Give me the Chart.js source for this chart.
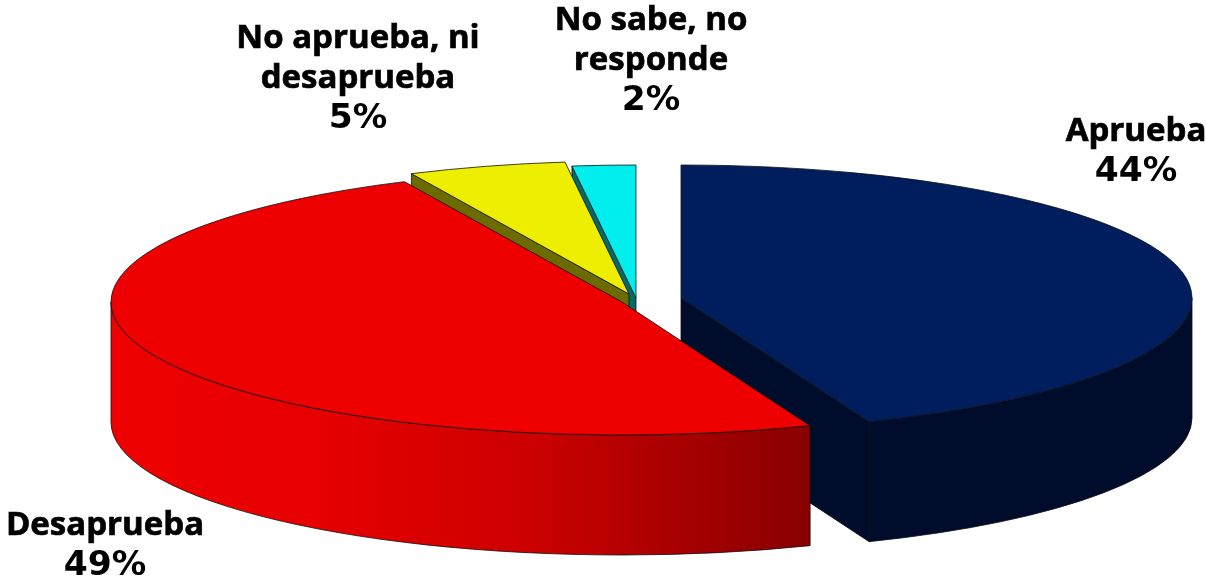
<!DOCTYPE html>
<html>
<head>
<meta charset="utf-8">
<style>
  html, body { margin: 0; padding: 0; background: #fff; }
  canvas { display: block; }
</style>
<script src="https://cdn.jsdelivr.net/npm/chart.js@4"></script>
</head>
<body>
<canvas id="torta" width="1206" height="583"></canvas>
<script>
/* =================== Datos =================== */
const categorias = ["Aprueba", "Desaprueba", "No aprueba, ni desaprueba", "No sabe, no responde"];
const valores = [44, 49, 5, 2];
const colores = ["#001e5e", "#ee0000", "#eeee00", "#00eeee"];
const coloresCorte = ["#000c2b", "#8b0000", "#6b6b00", "#006b6b"];

/* =============== Etiquetas (líneas y ancla en pantalla) =============== */
const etiquetas = [
  ["Aprueba", "44%"],
  ["Desaprueba", "49%"],
  ["No aprueba, ni", "desaprueba", "5%"],
  ["No sabe, no", "responde", "2%"]
];
const anclas = [[1136, 141], [105, 535], [358, 48], [651, 30]];
const FUENTE = "bold 33px 'Open Sans'";
const FUENTE_PCT = "bold 34.5px 'DejaVu Sans'"; // los dígitos del original son más anchos
const INTERLINEA = 40;

/* =============== Geometría 3D =============== */
const RX = 511, RY = 133, PROF = 120;
const centros = [[681, 298], [622, 302], [629, 294], [636, 298]];
const ordenMuros = [0, 3, 2, 1]; // de atrás hacia adelante

let sx = 1, sy = 1; // escala de la torta plana a la elipse

function gradienteMuro(ctx, i){
  const g = ctx.createLinearGradient(111, 0, 810, 0);
  if(i === 1){
    g.addColorStop(0, "#ee0000");
    g.addColorStop(0.3, "#e60000");
    g.addColorStop(0.6, "#cc0000");
    g.addColorStop(1, "#880000");
    return g;
  }
  return coloresCorte[i];
}

function cara(ctx, pts, color){
  ctx.beginPath();
  pts.forEach((p, k) => k ? ctx.lineTo(p[0], p[1]) : ctx.moveTo(p[0], p[1]));
  ctx.closePath();
  ctx.fillStyle = color;
  ctx.fill();
  ctx.stroke();
}

function corte(ctx, cx, cy, ang, color){
  const px = cx + RX * Math.cos(ang), py = cy + RY * Math.sin(ang);
  cara(ctx, [[cx, cy], [px, py], [px, py + PROF], [cx, cy + PROF]], color);
}

function muros(ctx, arcs){
  ctx.strokeStyle = "#101010";
  ctx.lineWidth = 0.8;
  ordenMuros.forEach(i => {
    const arc = arcs[i];
    const cx = arc.x * sx, cy = arc.y * sy;
    // solo se ven las caras de corte que miran hacia abajo
    if(Math.cos(arc.startAngle) < -1e-6) corte(ctx, cx, cy, arc.startAngle, coloresCorte[i]);
    if(Math.cos(arc.endAngle) > 1e-6) corte(ctx, cx, cy, arc.endAngle, coloresCorte[i]);
    // muro exterior: mitad delantera de la elipse
    const a = Math.max(arc.startAngle, 0), b = Math.min(arc.endAngle, Math.PI);
    if(b > a){
      ctx.beginPath();
      ctx.ellipse(cx, cy, RX, RY, 0, a, b);
      ctx.ellipse(cx, cy + PROF, RX, RY, 0, b, a, true);
      ctx.closePath();
      ctx.fillStyle = gradienteMuro(ctx, i);
      ctx.fill();
      ctx.stroke();
    }
  });
}

function bordes(ctx, arcs){
  ctx.strokeStyle = "#101010";
  ctx.lineWidth = 0.8;
  arcs.forEach(arc => {
    const cx = arc.x * sx, cy = arc.y * sy;
    ctx.beginPath();
    ctx.moveTo(cx, cy);
    ctx.ellipse(cx, cy, RX, RY, 0, arc.startAngle, arc.endAngle);
    ctx.closePath();
    ctx.stroke();
  });
}

function textos(ctx){
  ctx.fillStyle = "#000";
  ctx.strokeStyle = "#000";
  ctx.lineWidth = 0.7; // el original es algo más grueso
  ctx.textAlign = "center";
  ctx.textBaseline = "alphabetic";
  etiquetas.forEach((lineas, i) => {
    lineas.forEach((t, k) => {
      const x = anclas[i][0], y = anclas[i][1] + k * INTERLINEA;
      const pct = k === lineas.length - 1;
      ctx.font = pct ? FUENTE_PCT : FUENTE;
      ctx.fillText(t, x, y);
      if(!pct) ctx.strokeText(t, x, y);
    });
  });
}

/* --------------- Plugin: vuelve 3D la torta de Chart.js --------------- */
const torta3d = {
  id: "torta3d",
  afterDatasetsUpdate(chart){
    const arcs = chart.getDatasetMeta(0).data;
    const r = arcs[0].outerRadius;
    sx = RX / r; sy = RY / r;
    arcs.forEach((arc, i) => {
      arc.x = centros[i][0] / sx;
      arc.y = centros[i][1] / sy;
    });
  },
  beforeDatasetsDraw(chart){
    const ctx = chart.ctx;
    muros(ctx, chart.getDatasetMeta(0).data);
    ctx.save();
    ctx.scale(sx, sy);
  },
  afterDatasetsDraw(chart){
    const ctx = chart.ctx;
    ctx.restore();
    bordes(ctx, chart.getDatasetMeta(0).data);
    textos(ctx);
  }
};

new Chart(document.getElementById("torta"), {
  type: "pie",
  data: {
    labels: categorias,
    datasets: [{
      data: valores,
      backgroundColor: colores,
      borderWidth: 0,
      clip: false
    }]
  },
  options: {
    responsive: false,
    animation: false,
    events: [],
    layout: { padding: 0 },
    plugins: { legend: { display: false }, tooltip: { enabled: false } }
  },
  plugins: [torta3d]
});
</script>
</body>
</html>
